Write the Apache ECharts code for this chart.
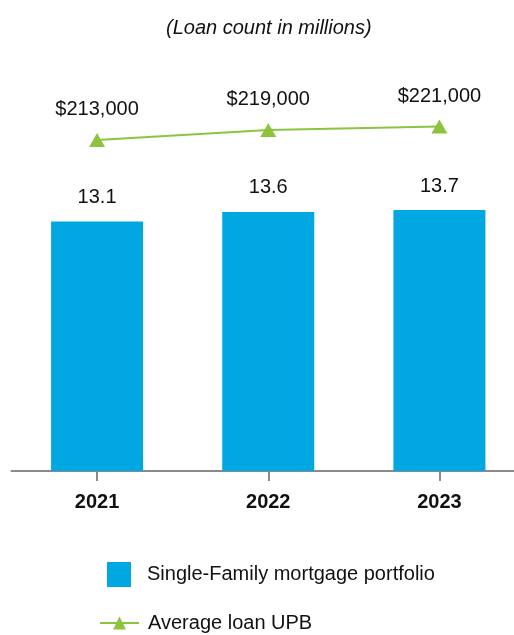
<!DOCTYPE html>
<html>
<head>
<meta charset="utf-8">
<script src="https://cdn.jsdelivr.net/npm/echarts@6/dist/echarts.min.js"></script>
<style>
  html, body { margin: 0; padding: 0; background: #fff; overflow: hidden; }
  /* the plot runs a little past the right edge of the page */
  #chart { width: 525px; height: 635px; }
</style>
</head>
<body>
<div id="chart"></div>
<script>
// Loan portfolio: count of loans (millions) and average unpaid principal balance
const years = ['2021', '2022', '2023'];
const loanCounts = [13.1, 13.6, 13.7];
const avgLoanUPB = [213000, 219000, 221000];
const barName = 'Single-Family mortgage portfolio';
const lineName = 'Average loan UPB';

const FONT = '"Liberation Sans", Arial, sans-serif';
const BLUE = '#00a7e1';
const GREEN = '#8cc43f';

const chart = echarts.init(document.getElementById('chart'));

chart.setOption({
  animation: false,
  title: {
    text: '(Loan count in millions)',
    left: 161,
    top: 13,
    textStyle: { fontFamily: FONT, fontStyle: 'italic', fontWeight: 'normal', fontSize: 20, color: '#111' }
  },
  grid: { left: 11.5, right: 0, top: 90, height: 381 },
  legend: [
    {
      data: [barName],
      left: 107, top: 562, padding: 0,
      icon: 'rect', itemWidth: 24, itemHeight: 25, itemGap: 0,
      textStyle: { fontFamily: FONT, fontSize: 20, color: '#111', padding: [0, 0, 0, 11] }
    },
    {
      data: [lineName],
      left: 99, top: 613, padding: 0,
      itemWidth: 39, itemHeight: 16,
      textStyle: { fontFamily: FONT, fontSize: 20, color: '#111', padding: [0, 0, 0, 4] }
    }
  ],
  xAxis: {
    type: 'category',
    data: years,
    boundaryGap: true,
    axisLine: { show: true, lineStyle: { color: '#8a8a8a', width: 2 } },
    axisTick: { show: true, alignWithLabel: true, length: 10, lineStyle: { color: '#8a8a8a', width: 2 } },
    axisLabel: { margin: 21, fontFamily: FONT, fontSize: 20, fontWeight: 'bold', color: '#111' }
  },
  yAxis: [
    { type: 'value', min: 0, max: 20, show: false },
    { type: 'value', min: 14000, max: 243000, show: false }
  ],
  series: [
    {
      name: barName,
      type: 'bar',
      data: loanCounts,
      barWidth: 92,
      itemStyle: { color: BLUE },
      label: {
        show: true, position: 'top', distance: 14,
        fontFamily: FONT, fontSize: 20, color: '#111',
        formatter: p => p.value.toFixed(1)
      }
    },
    {
      name: lineName,
      type: 'line',
      yAxisIndex: 1,
      data: avgLoanUPB,
      symbol: 'triangle',
      symbolSize: [16, 14],
      lineStyle: { color: GREEN, width: 2 },
      itemStyle: { color: GREEN },
      label: {
        show: true, position: 'top', distance: 13,
        fontFamily: FONT, fontSize: 20, color: '#111',
        formatter: p => '$' + p.value.toLocaleString('en-US')
      }
    }
  ]
});
</script>
</body>
</html>
